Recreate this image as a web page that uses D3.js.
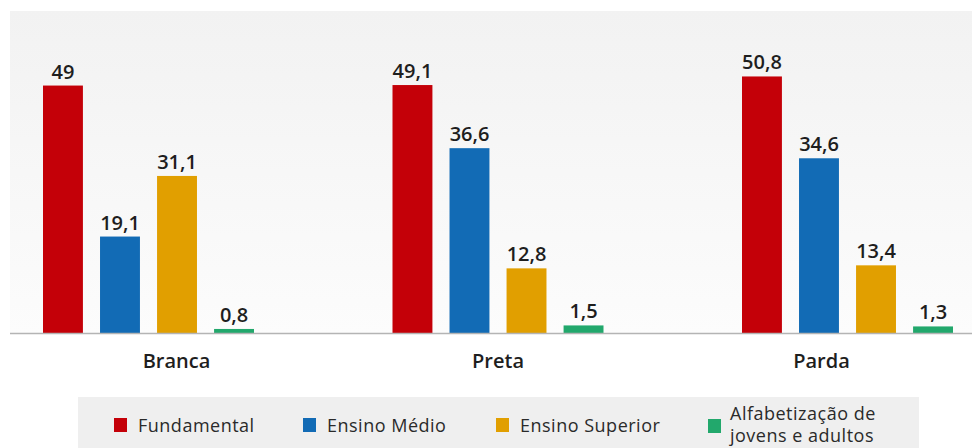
<!DOCTYPE html>
<html>
<head>
<meta charset="utf-8">
<script src="https://cdn.jsdelivr.net/npm/d3@7"></script>
<style>
  html, body { margin: 0; padding: 0; background: #fff; }
  svg { display: block; font-family: "Open Sans", Lato, "DejaVu Sans", sans-serif; }
</style>
</head>
<body>
<svg id="chart" width="972" height="448"></svg>
<script>
// categorias e séries
const categories = ["Branca", "Preta", "Parda"];
const seriesNames = ["Fundamental", "Ensino Médio", "Ensino Superior", "Alfabetização de jovens e adultos"];
const fundamental = [49, 49.1, 50.8];
const ensinoMedio = [19.1, 36.6, 34.6];
const ensinoSuperior = [31.1, 12.8, 13.4];
const alfabetizacao = [0.8, 1.5, 1.3];
const seriesValues = [fundamental, ensinoMedio, ensinoSuperior, alfabetizacao];

const colors = ["#c40008", "#126bb5", "#e19f00", "#22a86c"];
const labelShift = [28, 0, -26]; // deslocamento dos rótulos das categorias

const svg = d3.select("#chart");
const width = 972, height = 448;
const baseY = 333;

// fundo da área do gráfico (degradê cinza claro)
const defs = svg.append("defs");
const grad = defs.append("linearGradient")
    .attr("id", "bg")
    .attr("x1", 0).attr("y1", 0).attr("x2", 0).attr("y2", 1);
grad.append("stop").attr("offset", "0%").attr("stop-color", "#f2f2f2");
grad.append("stop").attr("offset", "100%").attr("stop-color", "#fcfcfc");

svg.append("rect")
    .attr("x", 10).attr("y", 11)
    .attr("width", width - 10).attr("height", baseY - 11)
    .attr("fill", "url(#bg)");

// escalas
const x0 = d3.scalePoint()
    .domain(categories)
    .range([148.5, 847.5]);

const x1 = d3.scaleBand()
    .domain(d3.range(seriesNames.length))
    .range([-105.5, 105.5])
    .paddingInner(0.3);

const y = d3.scaleLinear()
    .domain([0, 60])
    .range([baseY, 30]);

const fmt = v => String(v).replace(".", ",");

const groups = svg.selectAll(".grupo")
    .data(categories)
    .enter()
    .append("g")
    .attr("class", "grupo")
    .attr("transform", d => `translate(${x0(d)},0)`);

const cells = (d, ci) => seriesValues.map((vals, si) => ({ si, v: vals[ci] }));

groups.selectAll("rect")
    .data(cells)
    .enter()
    .append("rect")
    .attr("x", d => x1(d.si))
    .attr("y", d => y(d.v))
    .attr("width", x1.bandwidth())
    .attr("height", d => baseY - y(d.v))
    .attr("fill", d => colors[d.si]);

groups.selectAll("text.valor")
    .data(cells)
    .enter()
    .append("text")
    .attr("class", "valor")
    .attr("x", d => x1(d.si) + x1.bandwidth() / 2)
    .attr("y", d => y(d.v) - 7)
    .attr("text-anchor", "middle")
    .style("font-size", "20px")
    .style("font-weight", "600")
    .style("fill", "#1e1e1e")
    .text(d => fmt(d.v));

// linha de base
svg.append("line")
    .attr("x1", 10).attr("x2", width)
    .attr("y1", baseY + 0.5).attr("y2", baseY + 0.5)
    .attr("stroke", "#b4b4b4")
    .attr("stroke-width", 1.5);

// rótulos das categorias
svg.selectAll(".cat")
    .data(categories)
    .enter()
    .append("text")
    .attr("class", "cat")
    .attr("x", (d, i) => x0(d) + labelShift[i])
    .attr("y", 368)
    .attr("text-anchor", "middle")
    .style("font-size", "20px")
    .style("font-weight", "600")
    .style("fill", "#1e1e1e")
    .text(d => d);

// legenda
svg.append("rect")
    .attr("x", 78).attr("y", 397)
    .attr("width", 841).attr("height", 51)
    .attr("fill", "#efefef");

const legendX = [114, 303, 496, 708];
const legend = svg.selectAll(".leg")
    .data(seriesNames)
    .enter()
    .append("g")
    .attr("class", "leg")
    .attr("transform", (d, i) => `translate(${legendX[i]},0)`);

legend.append("rect")
    .attr("x", 0)
    .attr("y", (d, i) => i === 3 ? 419 : 418)
    .attr("width", 13).attr("height", 14)
    .attr("fill", (d, i) => colors[i]);

legend.append("text")
    .attr("y", (d, i) => i === 3 ? 420 : 432)
    .style("font-size", "18px")
    .style("font-weight", "500")
    .style("letter-spacing", "0.5px")
    .style("fill", "#2a2a2a")
    .each(function (d, i) {
        const t = d3.select(this);
        if (i === 3) {
            t.append("tspan").attr("x", 22).text("Alfabetização de");
            t.append("tspan").attr("x", 22).attr("dy", 22).text("jovens e adultos");
        } else {
            t.attr("x", 24).text(d);
        }
    });
</script>
</body>
</html>
